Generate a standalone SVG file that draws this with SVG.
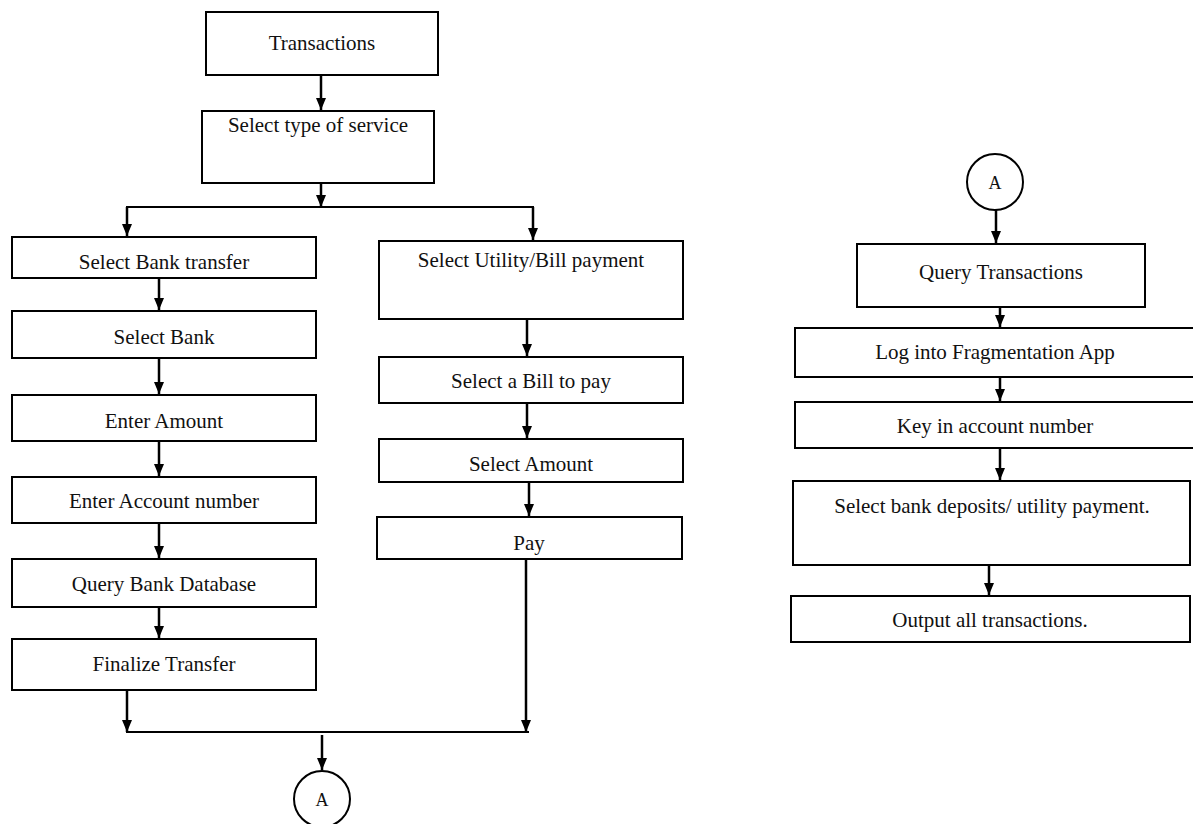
<svg xmlns="http://www.w3.org/2000/svg" width="1193" height="824" viewBox="0 0 1193 824">
<style>
.box{fill:#fff;stroke:#000;stroke-width:2}
.t{font-family:"Liberation Serif","Times New Roman",serif;font-size:21px;fill:#111;text-anchor:middle}
.ta{font-family:"Liberation Serif","Times New Roman",serif;font-size:18px;fill:#111;text-anchor:middle}
.c{fill:none;stroke:#000;stroke-width:2.5}
.ln{fill:none;stroke:#000;stroke-width:2}
</style>
<defs>
<marker id="ah" markerUnits="userSpaceOnUse" viewBox="0 0 12 10" markerWidth="12" markerHeight="10" refX="12" refY="5" orient="auto">
<path d="M0,0 L12,5 L0,10 z" fill="#000"/>
</marker>
</defs>
<rect width="1193" height="824" fill="#fff"/>
<g id="connectors">
<line class="c" x1="321" y1="75" x2="321" y2="110" marker-end="url(#ah)"/>
<line class="c" x1="321" y1="183" x2="321" y2="207" marker-end="url(#ah)"/>
<line class="ln" x1="126" y1="207" x2="534" y2="207"/>
<line class="c" x1="127" y1="207" x2="127" y2="236" marker-end="url(#ah)"/>
<line class="c" x1="533" y1="207" x2="533" y2="240" marker-end="url(#ah)"/>
<line class="c" x1="159" y1="278" x2="159" y2="310" marker-end="url(#ah)"/>
<line class="c" x1="159" y1="358" x2="159" y2="394" marker-end="url(#ah)"/>
<line class="c" x1="159" y1="441" x2="159" y2="476" marker-end="url(#ah)"/>
<line class="c" x1="159" y1="523" x2="159" y2="558" marker-end="url(#ah)"/>
<line class="c" x1="159" y1="607" x2="159" y2="638" marker-end="url(#ah)"/>
<line class="c" x1="127" y1="690" x2="127" y2="732" marker-end="url(#ah)"/>
<line class="c" x1="527" y1="319" x2="527" y2="356" marker-end="url(#ah)"/>
<line class="c" x1="527" y1="403" x2="527" y2="438" marker-end="url(#ah)"/>
<line class="c" x1="529" y1="482" x2="529" y2="516" marker-end="url(#ah)"/>
<line class="c" x1="526" y1="559" x2="526" y2="732" marker-end="url(#ah)"/>
<line class="ln" x1="126" y1="732" x2="529" y2="732"/>
<line class="c" x1="322" y1="735" x2="322" y2="770" marker-end="url(#ah)"/>
<line class="c" x1="996" y1="210" x2="996" y2="243" marker-end="url(#ah)"/>
<line class="c" x1="1000" y1="307" x2="1000" y2="327" marker-end="url(#ah)"/>
<line class="c" x1="1000" y1="377" x2="1000" y2="401" marker-end="url(#ah)"/>
<line class="c" x1="1000" y1="448" x2="1000" y2="480" marker-end="url(#ah)"/>
<line class="c" x1="989" y1="565" x2="989" y2="595" marker-end="url(#ah)"/>
</g>
<g id="n-transactions"><rect class="box" x="206" y="12" width="232" height="63"/><text class="t" x="322" y="50">Transactions</text></g>
<g id="n-select-type"><rect class="box" x="202" y="111" width="232" height="72"/><text class="t" x="318" y="132">Select type of service</text></g>
<g id="n-bank-transfer"><rect class="box" x="12" y="237" width="304" height="41"/><text class="t" x="164" y="269">Select Bank transfer</text></g>
<g id="n-select-bank"><rect class="box" x="12" y="311" width="304" height="47"/><text class="t" x="164" y="344">Select Bank</text></g>
<g id="n-enter-amount"><rect class="box" x="12" y="395" width="304" height="46"/><text class="t" x="164" y="428">Enter Amount</text></g>
<g id="n-enter-account"><rect class="box" x="12" y="477" width="304" height="46"/><text class="t" x="164" y="508">Enter Account number</text></g>
<g id="n-query-bank"><rect class="box" x="12" y="559" width="304" height="48"/><text class="t" x="164" y="591">Query Bank Database</text></g>
<g id="n-finalize"><rect class="box" x="12" y="639" width="304" height="51"/><text class="t" x="164" y="671">Finalize Transfer</text></g>
<g id="n-utility"><rect class="box" x="379" y="241" width="304" height="78"/><text class="t" x="531" y="267">Select Utility/Bill payment</text></g>
<g id="n-select-bill"><rect class="box" x="379" y="357" width="304" height="46"/><text class="t" x="531" y="388">Select a Bill to pay</text></g>
<g id="n-select-amount"><rect class="box" x="379" y="439" width="304" height="43"/><text class="t" x="531" y="471">Select Amount</text></g>
<g id="n-pay"><rect class="box" x="377" y="517" width="305" height="42"/><text class="t" x="529" y="550">Pay</text></g>
<g id="n-connector-a1"><circle class="box" cx="322" cy="799" r="28"/><text class="ta" x="322" y="806">A</text></g>
<g id="n-connector-a2"><circle class="box" cx="995" cy="182" r="28"/><text class="ta" x="995" y="189">A</text></g>
<g id="n-query-tx"><rect class="box" x="857" y="244" width="288" height="63"/><text class="t" x="1001" y="279">Query Transactions</text></g>
<g id="n-login"><rect class="box" x="795" y="328" width="420" height="49"/><text class="t" x="995" y="359">Log into Fragmentation App</text></g>
<g id="n-key-in"><rect class="box" x="795" y="402" width="420" height="46"/><text class="t" x="995" y="433">Key in account number</text></g>
<g id="n-select-deposits"><rect class="box" x="793" y="481" width="397" height="84"/><text class="t" x="992" y="513">Select bank deposits/ utility payment.</text></g>
<g id="n-output"><rect class="box" x="791" y="596" width="399" height="46"/><text class="t" x="990" y="627">Output all transactions.</text></g>
</svg>
